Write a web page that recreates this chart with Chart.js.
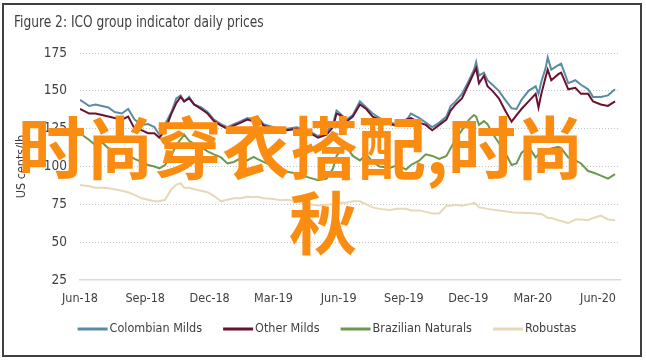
<!DOCTYPE html>
<html><head><meta charset="utf-8">
<script src="https://cdn.jsdelivr.net/npm/chart.js@4.4.1/dist/chart.umd.min.js"></script>
<style>
html,body{margin:0;padding:0;background:#fff;}
#wrap{position:relative;width:646px;height:360px;overflow:hidden;background:#fff;}
#frame{position:absolute;left:2px;top:3px;width:640px;height:354px;border:2px solid #3f3f3f;box-sizing:border-box;pointer-events:none;}
#title{position:absolute;left:14px;top:12px;font-family:"DejaVu Sans Condensed","DejaVu Sans",sans-serif;font-stretch:condensed;font-size:16px;line-height:20px;color:#404040;white-space:nowrap;transform:scaleX(0.85);transform-origin:0 0;}
canvas{position:absolute;left:0;top:0;}
.wm{position:absolute;font-family:"Noto Sans CJK SC",sans-serif;font-weight:bold;font-size:68px;line-height:68px;color:#fb8c12;white-space:nowrap;}
#wm1{left:18px;top:111px;}
#wm2{left:289px;top:186px;}
</style></head>
<body>
<div id="wrap">
<canvas id="c" width="646" height="360"></canvas>
<div id="title">Figure 2: ICO group indicator daily prices</div>
<div id="wm1" class="wm">时尚穿衣搭配,时尚</div>
<div id="wm2" class="wm">秋</div>
<div id="frame"></div>
</div>
<script>
const dates = ['2018-06-01','2018-06-14','2018-06-23','2018-07-02','2018-07-11','2018-07-20','2018-07-30','2018-08-08','2018-08-17','2018-08-27',
'2018-09-05','2018-09-14','2018-09-21','2018-09-29','2018-10-08','2018-10-15','2018-10-21','2018-10-26','2018-11-02','2018-11-09',
'2018-11-19','2018-11-28','2018-12-07','2018-12-17','2018-12-26','2019-01-04','2019-01-14','2019-01-23','2019-02-01','2019-02-06',
'2019-02-15','2019-03-01','2019-03-11','2019-03-20','2019-04-03','2019-04-18','2019-05-03','2019-05-15','2019-05-24','2019-05-29',
'2019-06-03','2019-06-12','2019-06-21','2019-07-01','2019-07-10','2019-07-19','2019-07-29','2019-08-12','2019-08-23','2019-09-04',
'2019-09-11','2019-09-23','2019-10-02','2019-10-11','2019-10-21','2019-10-31','2019-11-06','2019-11-13','2019-11-22','2019-12-02',
'2019-12-09','2019-12-12','2019-12-16','2019-12-23','2019-12-28','2020-01-04','2020-01-13','2020-01-22','2020-01-31','2020-02-07',
'2020-02-14','2020-02-24','2020-03-05','2020-03-09','2020-03-13','2020-03-19','2020-03-22','2020-03-27','2020-04-06','2020-04-10',
'2020-04-20','2020-04-30','2020-05-08','2020-05-18','2020-05-25','2020-06-05','2020-06-15','2020-06-25'];

const colombianMilds = [144,140,141,140,139,136,135,138,131,127.5,
128,126,121,128,136,145,147,143,146,141,
139,136,131,128,126,128,130,132,131,133,
128,126,125,125,126,124,120,123,128,137,
135,131,134,143,139,135,132,129,128,130,
135,132,129,126,129,133,140,143,148,157,
164,169,160,162,157,154,150,144,138.5,138,
144,150,153,148,156,165,172,164,167,168,
155,157,154,151,146,146,147,151];

const otherMilds = [138,135,135,134,133,132,131,133,125,124,
122,122,119,124,135,142,146,143,145,141,
138,135,130,127,125,127,129,131,130,132,
127,125,124,124,125,123,119,121,126,135,
134,129.6,133,141,138,133,131,128,127,131,
132,129,127.5,124,127.5,131,137,141,145,155,
162,165,155,160,153,150,145,137,129.6,134,
138,143,148,139,148,159,164,157,161,162,
151,152,148,148,143,141,140,143];

const brazilianNaturals = [122,117.5,114,116,112,111,110,107.6,105,103,
101,100,98.7,101,107.6,114,118,121,117,115,
113,110,108,106,102,103,105.5,104,106.4,105,
103,100,97.5,96.5,95.4,93,91,92,98.7,107,
110,113,107,104,108,103,100,99,101,98,
101,104,108,107,105,107,112,118,124,131,
134,133,127.5,130,128,122,115.5,109,101,102,
109,113,106,108,110,110,111,112,113,112,
106,104,102,97,96,94,92,95];

const robustas = [87.7,87,86,86,85.6,85,84,83,81.3,79,
78,77,77,78,85,88,89,86,86,85,
84,83,80.6,77,78,79,79,80,79.7,80,
79,78.5,77.7,78,77,75.3,74.3,74.7,75,76,
76,76,77,77,75,73,72,71.3,72,72,
71,71,70,69,69,74,74,74.7,74,75,
76,75,73,72.5,72,71.5,71,70.5,69.7,69.5,
69.5,69.2,69,68.6,68.6,67,66,66,64.5,64,
62.5,65,65,64.5,66,67.5,65,64.5];

const seriesNames = ['Colombian Milds','Other Milds','Brazilian Naturals','Robustas'];
const tickDates = ['2018-06-01','2018-09-01','2018-12-01','2019-03-01','2019-06-01','2019-09-01','2019-12-01','2020-03-01','2020-06-01'];
const tickLabels = ['Jun-18','Sep-18','Dec-18','Mar-19','Jun-19','Sep-19','Dec-19','Mar-20','Jun-20'];
const yTicks = [25,50,75,100,125,150,175];

const BASE = Date.UTC(2018,5,1);
const toDay = s => { const p = s.split('-').map(Number); return (Date.UTC(p[0],p[1]-1,p[2]) - BASE) / 86400000; };
const xs = dates.map(toDay);
const tickDays = tickDates.map(toDay);
const pts = arr => arr.map((v,i) => ({x: xs[i], y: v}));

const FONT = '"DejaVu Sans Condensed","DejaVu Sans",sans-serif';
const colors = ['#5b8ca2','#6b1030','#6b9a4e','#e6d9b8'];
const orders = [1,0,2,3];
const allSeries = [colombianMilds, otherMilds, brazilianNaturals, robustas];

// Legend drawn below the axis: short line + label for each series
const lineLegend = {
  id: 'lineLegend',
  afterDraw(chart) {
    const ctx = chart.ctx;
    const dss = chart.data.datasets;
    ctx.save();
    ctx.font = '12.5px ' + FONT;
    const lineW = 30, gapText = 2, gapItem = 21, y = 329, cx = 327;
    const widths = dss.map(ds => lineW + gapText + ctx.measureText(ds.label).width);
    const total = widths.reduce((a, b) => a + b, 0) + gapItem * (widths.length - 1);
    let x = cx - total / 2;
    ctx.textBaseline = 'middle';
    ctx.textAlign = 'left';
    dss.forEach((ds, i) => {
      ctx.fillStyle = ds.borderColor;
      ctx.fillRect(x, y - 1.5, lineW, 3);
      ctx.fillStyle = '#404040';
      ctx.fillText(ds.label, x + lineW + gapText, y);
      x += widths[i] + gapItem;
    });
    ctx.restore();
  }
};

new Chart(document.getElementById('c'), {
  type: 'line',
  data: {
    datasets: allSeries.map((s,i) => ({
      label: seriesNames[i], data: pts(s), borderColor: colors[i], backgroundColor: colors[i],
      borderWidth: 2, pointRadius: 0, tension: 0, fill: false, order: orders[i]
    }))
  },
  plugins: [lineLegend],
  options: {
    responsive: false, animation: false,
    layout: { padding: { left: 14, right: 26, top: 53, bottom: 50 } },
    plugins: {
      title: { display: false },
      tooltip: { enabled: false },
      legend: { display: false }
    },
    scales: {
      x: {
        type: 'linear', min: 0, max: 762,
        grid: { display: false, drawTicks: false },
        border: { display: true, color: '#d9d9d9', width: 1.5 },
        afterBuildTicks: s => { s.ticks = tickDays.map(v => ({ value: v })); },
        afterFit: s => { s.height = 30; },
        ticks: {
          autoSkip: false, maxRotation: 0, padding: 11, color: '#404040',
          font: { family: FONT, size: 12.5 },
          callback: v => { const i = tickDays.indexOf(v); return i >= 0 ? tickLabels[i] : ''; }
        }
      },
      y: {
        min: 25, max: 175,
        afterFit: s => { s.width = 66; },
        afterBuildTicks: s => { s.ticks = yTicks.map(v => ({ value: v })); },
        ticks: { padding: 13, color: '#404040', font: { family: FONT, size: 13.5 } },
        grid: { drawTicks: false, lineWidth: 1,
          color: c => (c.tick && c.tick.value === 25) ? 'rgba(0,0,0,0)' : '#c4c4c4' },
        border: { display: false, dash: [1,2] },
        title: { display: true, text: 'US cents/lb', color: '#404040',
          font: { family: FONT, size: 12.5 }, padding: { top: 0, bottom: 0 } }
      }
    }
  }
});
</script>
</body></html>
